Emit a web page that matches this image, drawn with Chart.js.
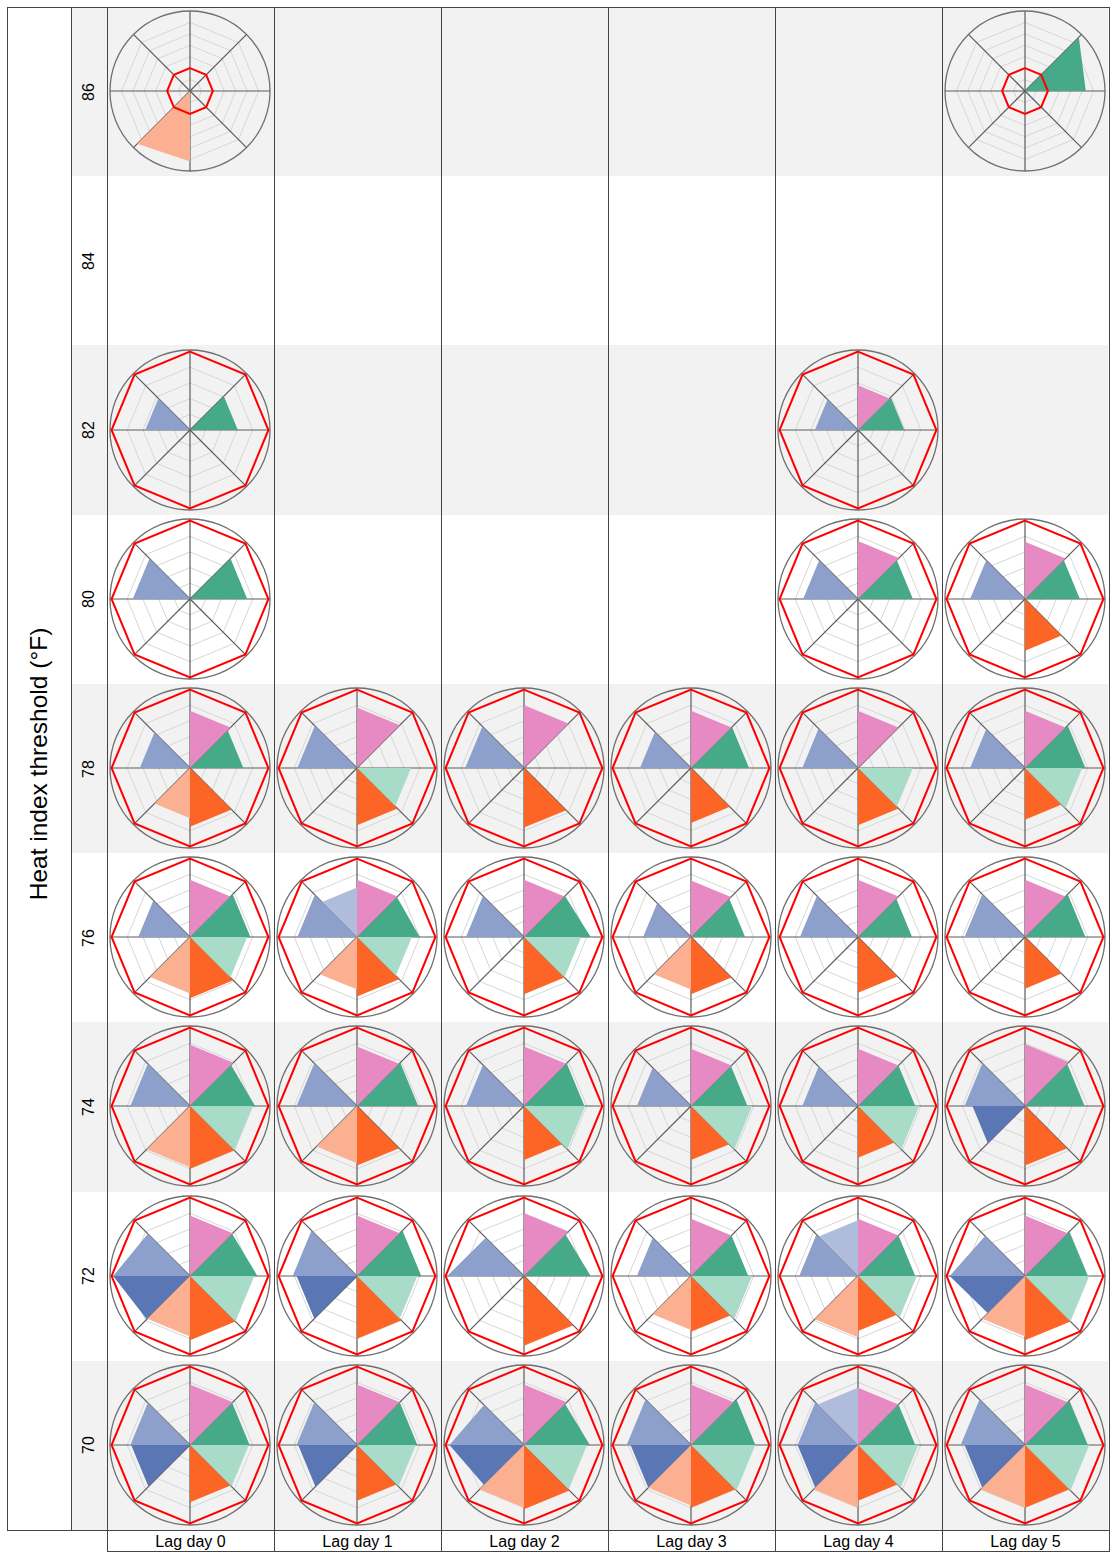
<!DOCTYPE html>
<html>
<head>
<meta charset="utf-8">
<script src="https://cdn.jsdelivr.net/npm/chart.js@4.4.1/dist/chart.umd.min.js"></script>
<style>
  body { margin: 0; background: #fff; font-family: "Liberation Sans", Arial, sans-serif; }
  #panel { position: absolute; left: 0; top: 0; width: 1114px; height: 1554px; }
  .band, .line, .lab { position: absolute; }
  .line { background: #444; }
  .lab { color: #000; text-align: center; white-space: nowrap; }
  canvas { position: absolute; }
</style>
</head>
<body>
<div id="panel"></div>
<script>
// axes of every radar, clockwise from the top
const axes = ["N", "NE", "E", "SE", "S", "SW", "W", "NW"];
const lags = ["Lag day 0", "Lag day 1", "Lag day 2", "Lag day 3", "Lag day 4", "Lag day 5"];
const thresholds = [86, 84, 82, 80, 78, 76, 74, 72, 70];

// one wedge per pair of neighbouring axes
const wedgeColors = ["#e78ac3", "#46a987", "#a8dcc9", "#fc6526", "#fcb092", "#5b76b5", "#8da0cb", "#b0bcdc"];

// reference level (red octagon) and radial max per row
const refLevel = 1;
const rowMax = [3.5, 1.02, 1.02, 1.02, 1.02, 1.02, 1.02, 1.02, 1.02];
const rowStep = [0.5, 0.2, 0.2, 0.2, 0.2, 0.2, 0.2, 0.2, 0.2];

// wedge values for each lag day (null = no chart);
// a pair gives different values on the wedge's two axes
const row86 = [
  [0, 0, 0, 0, [3.08, 3.26], 0, 0, 0], null, null, null, null,
  [0, [3.33, 2.66], 0, 0, 0, 0, 0, 0]
];
const row84 = [null, null, null, null, null, null];
const row82 = [
  [0, 0.61, 0, 0, 0, 0, 0.57, 0], null, null, null,
  [0.57, 0.59, 0, 0, 0, 0, 0.55, 0], null
];
const row80 = [
  [0, 0.73, 0, 0, 0, 0, 0.73, 0], null, null, null,
  [0.74, 0.70, 0, 0, 0, 0, 0.70, 0],
  [0.73, 0.70, 0, 0.66, 0, 0, 0.70, 0]
];
const row78 = [
  [0.73, 0.68, 0, 0.75, 0.64, 0, 0.64, 0],
  [0.77, 0, 0.69, 0.73, 0, 0, 0.76, 0],
  [0.80, 0, 0, 0.76, 0, 0, 0.75, 0],
  [0.73, 0.74, 0, 0.70, 0, 0, 0.65, 0],
  [0.73, 0, 0.70, 0.73, 0, 0, 0.71, 0],
  [0.73, 0.77, 0.73, 0.66, 0, 0, 0.70, 0]
];
const row76 = [
  [0.73, 0.77, 0.73, 0.78, 0.72, 0, 0.66, 0],
  [0.73, [0.72, 0.80], 0.70, 0.76, 0.67, 0, 0.76, 0.63],
  [0.73, [0.74, 0.85], 0.73, 0.73, 0, 0, 0.74, 0],
  [0.72, 0.69, 0, 0.73, 0.67, 0, 0.61, 0],
  [0.73, 0.69, 0, 0.71, 0, 0, 0.74, 0],
  [0.73, 0.77, 0, 0.66, 0, 0, 0.77, 0]
];
const row74 = [
  [0.78, [0.74, 0.83], 0.80, 0.80, 0.78, 0, 0.76, 0],
  [0.76, 0.78, 0, 0.76, 0.73, 0, 0.77, 0],
  [0.76, 0.77, 0.78, 0.69, 0, 0, 0.74, 0],
  [0.73, 0.72, 0.78, 0.69, 0, 0, 0.69, 0],
  [0.73, 0.73, 0.78, 0.66, 0, 0, 0.71, 0],
  [0.79, 0.76, 0, 0.76, 0, 0.67, 0.77, 0]
];
const row72 = [
  [0.77, [0.76, 0.86], 0.82, 0.82, 0.77, [0.78, 0.98], [0.98, 0.76], 0],
  [0.77, 0.82, 0.77, 0.80, 0, 0.77, 0.82, 0],
  [0.80, [0.75, 0.85], 0, 0.89, 0, 0, [0.98, 0.69], 0],
  [0.73, 0.73, 0.78, 0.71, 0.69, 0, 0.69, 0],
  [0.73, 0.73, 0.75, 0.70, 0.78, 0, 0.75, 0.71],
  [0.77, 0.80, 0.82, 0.82, 0.77, [0.67, 0.96], [0.96, 0.72], 0]
];
const row70 = [
  [0.77, 0.76, 0.75, 0.73, 0, 0.75, 0.76, 0],
  [0.77, 0.77, 0.75, 0.71, 0, 0.75, 0.77, 0],
  [0.77, [0.74, 0.84], 0.80, 0.82, 0.80, [0.72, 0.95], [0.95, 0.72], 0],
  [0.77, 0.82, 0.82, 0.80, 0.77, 0.77, 0.82, 0],
  [0.73, 0.73, 0.77, 0.71, 0.80, 0.77, 0.77, 0.73],
  [0.77, 0.80, 0.82, 0.80, 0.80, 0.77, 0.82, 0]
];
const rows = [row86, row84, row82, row80, row78, row76, row74, row72, row70];

// layout
const frameL = 7, frameT = 7, frameB = 1530, frameR = 1108;
const titleW = 64, labelW = 36;
const plotL = frameL + titleW + labelW;   // 107
const colW = 167;
const rowH = (frameB - frameT) / thresholds.length;

const panel = document.getElementById("panel");

function box(cls, x, y, w, h, css) {
  const d = document.createElement("div");
  d.className = cls;
  d.style.left = x + "px"; d.style.top = y + "px";
  d.style.width = w + "px"; d.style.height = h + "px";
  if (css) Object.assign(d.style, css);
  panel.appendChild(d);
  return d;
}

// shaded bands on alternate rows
thresholds.forEach((t, i) => {
  const y0 = Math.round(frameT + i * rowH), y1 = Math.round(frameT + (i + 1) * rowH);
  if (i % 2 === 0) {
    box("band", frameL + titleW, y0, frameR - frameL - titleW, y1 - y0, { background: "#f2f2f2" });
  }
  const lab = box("lab", frameL + titleW, Math.round(frameT + (i + 0.5) * rowH) - 10, labelW, 20,
    { fontSize: "16px", lineHeight: "20px", transform: "rotate(-90deg)" });
  lab.textContent = t;
});

// axis title
const title = box("lab", frameL + titleW / 2 - 200, (frameT + frameB) / 2 - 20, 400, 30,
  { fontSize: "24.5px", lineHeight: "30px", transform: "rotate(-90deg)" });
title.textContent = "Heat index threshold (\u00b0F)";

// frame lines
box("line", frameL, frameT, frameR - frameL + 1, 1);
box("line", frameL, frameB, frameR - frameL + 1, 1);
box("line", plotL, frameB + 21, frameR - plotL + 1, 1);
box("line", frameL, frameT, 1, frameB - frameT + 1);
box("line", frameL + titleW, frameT, 1, frameB - frameT + 1);
for (let c = 0; c <= lags.length; c++) {
  box("line", plotL + c * colW, frameT, 1, frameB - frameT + 22);
}
lags.forEach((l, c) => {
  const d = box("lab", plotL + c * colW, frameB + 1, colW, 20, { fontSize: "16px", lineHeight: "21px" });
  d.textContent = l;
});

// circle at the outer edge of each radar
const outerRing = {
  id: "outerRing",
  beforeDatasetsDraw(chart) {
    const r = chart.scales.r;
    const ctx = chart.ctx;
    ctx.save();
    ctx.beginPath();
    ctx.arc(r.xCenter, r.yCenter, r.drawingArea, 0, Math.PI * 2);
    ctx.strokeStyle = "#707070";
    ctx.lineWidth = 1.3;
    ctx.stroke();
    ctx.restore();
  }
};

function makeRadar(canvas, values, max, step) {
  const datasets = [{
    data: axes.map(() => refLevel),
    borderColor: "#ff0000",
    borderWidth: 2,
    backgroundColor: "rgba(0,0,0,0)",
    fill: false
  }];
  values.forEach((v, i) => {
    if (!v) return;
    const j = (i + 1) % axes.length;
    const a = Array.isArray(v) ? v[0] : v;
    const b = Array.isArray(v) ? v[1] : v;
    datasets.push({
      data: axes.map((_, k) => k === i ? a : (k === j ? b : 0)),
      backgroundColor: wedgeColors[i],
      borderColor: "rgba(0,0,0,0)",
      borderWidth: 0,
      fill: true
    });
  });
  new Chart(canvas, {
    type: "radar",
    data: { labels: axes, datasets: datasets },
    options: {
      responsive: false,
      animation: false,
      devicePixelRatio: 1,
      layout: { padding: 3 },
      plugins: { legend: { display: false }, tooltip: { enabled: false } },
      elements: { point: { radius: 0, hoverRadius: 0 }, line: { tension: 0 } },
      scales: {
        r: {
          min: 0,
          max: max,
          ticks: { display: false, stepSize: step },
          pointLabels: { display: false },
          angleLines: { color: "#5c5c5c", lineWidth: 1.2 },
          grid: {
            color: ctx => ctx.tick.value >= max - 1e-6 ? "rgba(0,0,0,0)" : "#d6d6d6",
            lineWidth: 1
          }
        }
      }
    },
    plugins: [outerRing]
  });
}

rows.forEach((row, r) => {
  row.forEach((values, c) => {
    if (!values) return;
    const cv = document.createElement("canvas");
    cv.width = colW; cv.height = 169;
    cv.style.left = (plotL + c * colW) + "px";
    cv.style.top = Math.round(frameT + (r + 0.5) * rowH - 84.5) + "px";
    panel.appendChild(cv);
    makeRadar(cv, values, rowMax[r], rowStep[r]);
  });
});
</script>
</body>
</html>
